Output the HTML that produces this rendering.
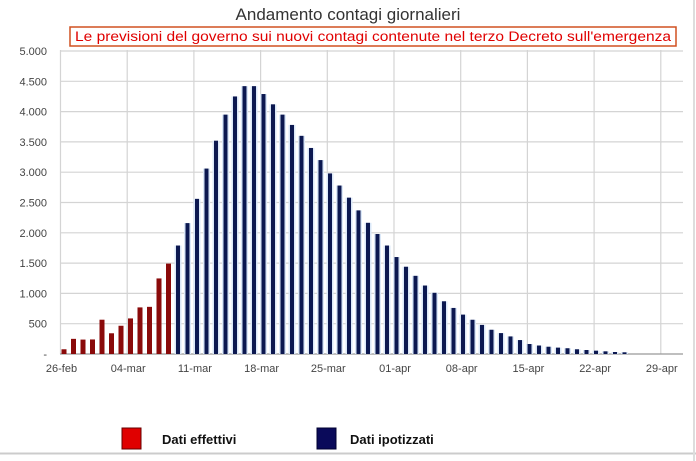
<!DOCTYPE html>
<html><head><meta charset="utf-8"><style>
body{margin:0;background:#fff;}
svg{display:block;font-family:"Liberation Sans",sans-serif;}
</style></head><body>
<svg width="696" height="461" viewBox="0 0 696 461" xmlns="http://www.w3.org/2000/svg">
<rect width="696" height="461" fill="#fff"/>
<text x="348" y="20" text-anchor="middle" font-size="17" fill="#333">Andamento contagi giornalieri</text>
<g id="grid" stroke="#d4d4d4" stroke-width="1.2"></g>
<line x1="60" y1="354" x2="683" y2="354" stroke="#999" stroke-width="1.2"/>
<g id="bars"></g>
<g id="ylab" font-size="11" fill="#444" text-anchor="end"></g>
<g id="xlab" font-size="11" fill="#444" text-anchor="middle"></g>
<rect x="70" y="27" width="606" height="19" fill="#fff" stroke="#d05020" stroke-width="1.5"/>
<text x="373" y="41" text-anchor="middle" font-size="13.5" fill="#e00000" textLength="596" lengthAdjust="spacingAndGlyphs">Le previsioni del governo sui nuovi contagi contenute nel terzo Decreto sull'emergenza</text>
<rect x="122" y="428" width="19" height="21" fill="#e00000" stroke="#600" stroke-width="1"/>
<text x="162" y="444" font-size="13" font-weight="bold" fill="#111">Dati effettivi</text>
<rect x="317" y="428" width="19" height="21" fill="#0a0a5a" stroke="#000030" stroke-width="1"/>
<text x="350" y="444" font-size="13" font-weight="bold" fill="#111">Dati ipotizzati</text>
<line x1="0" y1="453.5" x2="696" y2="453.5" stroke="#ccc" stroke-width="2"/>
<line x1="694" y1="0" x2="694" y2="461" stroke="#ddd" stroke-width="2"/>
</svg>
<script>
var ns="http://www.w3.org/2000/svg";
function el(p,t,a,txt){var e=document.createElementNS(ns,t);for(var k in a)e.setAttribute(k,a[k]);if(txt)e.textContent=txt;document.getElementById(p).appendChild(e);}
var y0=354,s=0.0606;
for(var v=500;v<=5000;v+=500){var y=y0-v*s;el('grid','line',{x1:60,x2:683,y1:y,y2:y});}
var ylabs=['-','500','1.000','1.500','2.000','2.500','3.000','3.500','4.000','4.500','5.000'];
for(var i=0;i<=10;i++){el('ylab','text',{x:47,y:y0-i*500*s+4},ylabs[i]);}
var xl=['26-feb','04-mar','11-mar','18-mar','25-mar','01-apr','08-apr','15-apr','22-apr','29-apr'];
for(var i=0;i<10;i++){var x=60.5+66.7*i;el('grid','line',{x1:x,x2:x,y1:50,y2:354});el('xlab','text',{x:x+1,y:372},xl[i]);}
var vals=[78,250,238,240,566,342,466,587,769,778,1247,1492,
1790,2160,2560,3060,3520,3950,4250,4420,4420,4290,4120,3950,3780,3600,3400,3200,2980,
2780,2580,2370,2165,1980,1790,1600,1440,1290,1130,1010,870,760,650,565,480,400,345,290,230,165,140,120,105,95,78,66,55,44,33,28];
for(var i=0;i<vals.length;i++){var x=64+9.5*i,h=vals[i]*s;
if(i>=12){el('bars','rect',{x:x-3.5,y:y0-h,width:7,height:h,fill:'#dbe8f8'});el('bars','rect',{x:x-2,y:y0-h,width:4,height:h,fill:'#0c1850'});}
else{el('bars','rect',{x:x-2.5,y:y0-h,width:5,height:h,fill:'#8a0a0a'});}}
</script>
</body></html>
